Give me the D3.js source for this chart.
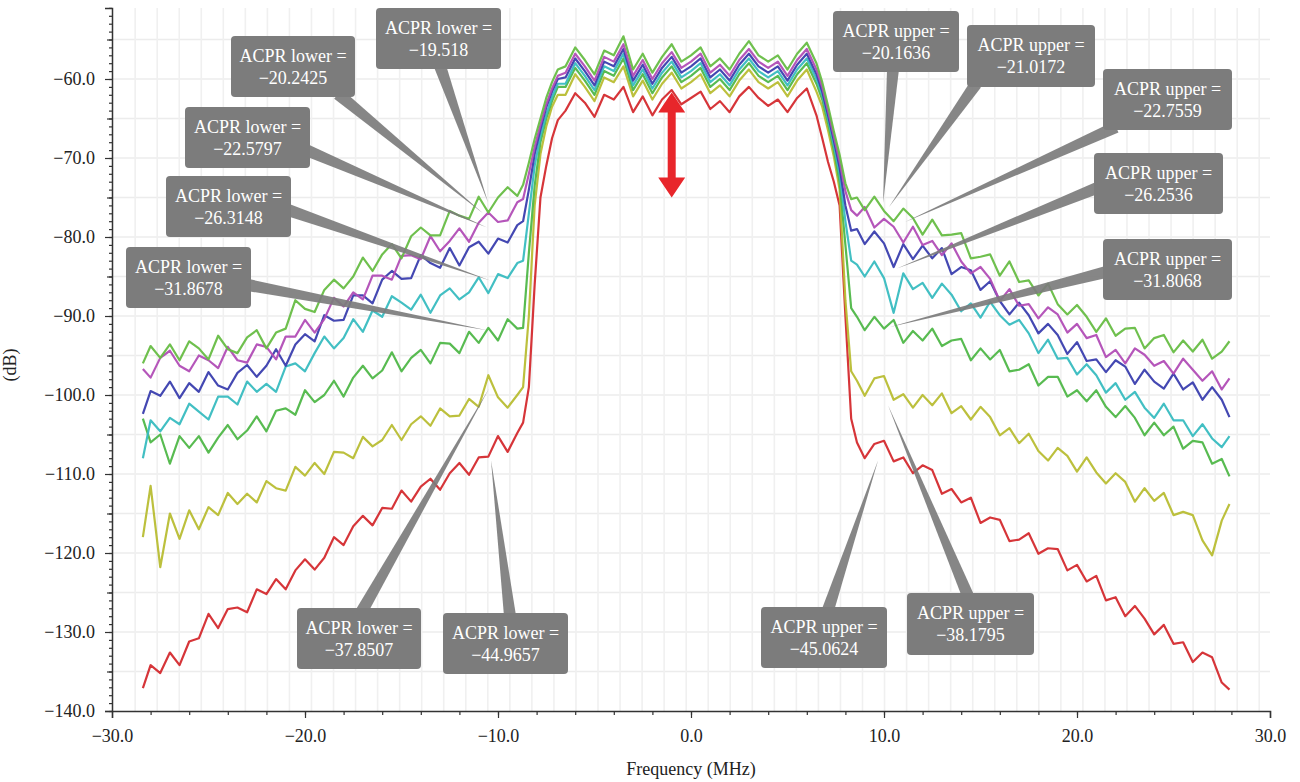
<!DOCTYPE html>
<html><head><meta charset="utf-8">
<script src="https://cdn.jsdelivr.net/npm/d3@7/dist/d3.min.js"></script>
<style>
body{margin:0;background:#fff;}
svg{display:block;}
</style></head><body>
<svg id="chart" width="1300" height="782"></svg>
<script>
// ---------------- DATA ----------------
const freq = [-28.4,-28.0,-27.5,-27.0,-26.5,-26.0,-25.5,-25.0,-24.5,-24.0,-23.5,-23.0,-22.5,-22.0,-21.5,-21.0,-20.5,-20.0,-19.5,-19.0,-18.5,-18.0,-17.5,-17.0,-16.5,-16.0,-15.5,-15.0,-14.5,-14.0,-13.5,-13.0,-12.5,-12.0,-11.5,-11.0,-10.5,-10.0,-9.5,-9.0,
-8.7,-8.4,-8.1,-7.8,-7.5,-7.2,-6.9,
-6.5,-6.0,-5.5,-5.0,-4.5,-4.0,-3.5,-3.0,-2.5,-2.0,-1.5,-1.0,-0.5,0.0,0.5,1.0,1.5,2.0,2.5,3.0,3.5,4.0,4.5,5.0,5.5,6.0,6.5,
6.8,7.1,7.4,7.7,8.0,8.3,
8.6,9.0,9.5,10.0,10.5,11.0,11.5,12.0,12.5,13.0,13.5,14.0,14.5,15.0,15.5,16.0,16.5,17.0,17.5,18.0,18.5,19.0,19.5,20.0,20.5,21.0,21.5,22.0,22.5,23.0,23.5,24.0,24.5,25.0,25.5,26.0,26.5,27.0,27.5,27.9];

const seriesRed = [-137.1,-134.2,-135.2,-132.6,-134.2,-131.2,-130.8,-127.7,-129.5,-127.1,-126.9,-127.5,-124.6,-125.2,-123.3,-124.6,-122.2,-120.8,-122.1,-120.6,-118.0,-119.0,-116.6,-115.3,-116.5,-114.3,-114.4,-112.1,-113.5,-111.6,-110.6,-112.0,-109.9,-108.6,-110.1,-107.9,-107.8,-105.2,-107.2,-104.8,
-103.5,-99.0,-86.0,-75.0,-71.0,-67.5,-65.2,
-64.0,-61.8,-63.0,-64.8,-62.0,-62.6,-61.0,-64.2,-62.2,-64.6,-62.6,-61.4,-63.2,-62.4,-61.6,-63.8,-62.8,-64.2,-62.2,-61.0,-62.4,-63.4,-62.6,-64.2,-62.4,-61.2,-64.6,
-67.5,-70.5,-73.0,-76.0,-90.0,-103.0,
-106.0,-108.0,-106.2,-105.8,-108.4,-107.9,-109.9,-108.9,-109.5,-112.5,-111.9,-113.6,-113.0,-116.2,-115.5,-115.8,-118.5,-118.3,-117.5,-120.1,-119.4,-119.5,-122.2,-121.5,-123.6,-122.9,-126.0,-125.6,-128.0,-126.7,-128.3,-130.3,-129.1,-131.5,-131.3,-133.8,-132.6,-133.2,-136.4,-137.3];

const seriesYellow = [-118.0,-111.5,-121.8,-115.0,-118.2,-114.6,-117.0,-114.2,-115.2,-112.4,-113.8,-112.5,-113.6,-110.9,-111.8,-112.1,-109.1,-110.2,-108.6,-110.0,-107.2,-107.3,-108.0,-105.3,-106.5,-105.7,-103.8,-105.7,-103.7,-102.7,-103.9,-101.7,-102.7,-102.6,-100.5,-101.5,-97.5,-100.3,-101.6,-100.0,
-99.0,-90.0,-76.0,-69.5,-66.0,-63.5,-62.0,
-62.0,-59.4,-61.0,-62.8,-59.8,-60.4,-58.4,-62.2,-60.2,-62.6,-60.6,-59.2,-61.2,-60.4,-59.4,-61.8,-60.8,-62.2,-60.2,-58.8,-60.4,-61.2,-60.4,-62.2,-60.2,-58.8,-61.6,
-63.5,-66.5,-69.8,-74.0,-88.0,-97.0,
-98.2,-100.1,-97.9,-97.6,-100.6,-99.9,-101.6,-100.0,-101.3,-99.8,-102.3,-101.4,-103.1,-101.5,-102.8,-105.1,-104.2,-106.1,-104.9,-107.1,-108.3,-106.7,-107.7,-109.7,-107.9,-109.8,-111.2,-109.9,-111.0,-113.5,-111.8,-113.4,-112.4,-115.2,-114.8,-115.2,-118.4,-120.3,-115.9,-113.8];

const seriesGreenLow = [-103.0,-106.0,-105.0,-108.7,-105.2,-106.7,-105.2,-107.3,-105.4,-103.8,-105.6,-104.5,-102.7,-104.6,-102.0,-101.7,-102.5,-99.4,-100.9,-100.0,-98.2,-100.2,-97.8,-96.3,-97.9,-96.9,-94.6,-97.0,-95.3,-94.3,-96.0,-93.4,-93.5,-94.7,-92.0,-93.4,-91.5,-93.1,-90.4,-91.6,
-91.5,-82.0,-73.5,-68.0,-65.0,-62.8,-61.0,
-61.0,-58.6,-60.2,-62.0,-59.0,-59.6,-57.4,-61.4,-59.4,-61.8,-59.8,-58.4,-60.4,-59.6,-58.6,-61.0,-60.0,-61.4,-59.4,-58.0,-59.6,-60.4,-59.6,-61.4,-59.4,-58.0,-60.6,
-62.6,-65.6,-69.0,-73.0,-81.0,-89.0,
-90.1,-91.8,-90.1,-91.6,-90.5,-93.4,-91.9,-93.1,-91.6,-93.8,-93.1,-92.9,-95.6,-94.1,-95.5,-94.3,-97.0,-96.8,-96.1,-98.8,-97.7,-97.7,-100.2,-99.4,-100.8,-99.4,-101.5,-102.8,-101.4,-102.9,-105.1,-103.5,-105.1,-104.0,-106.8,-105.8,-106.0,-108.7,-108.1,-110.3];

const seriesCyan = [-108.0,-103.2,-104.6,-102.9,-103.7,-101.1,-102.1,-103.1,-100.2,-100.2,-101.2,-98.3,-99.6,-98.6,-99.6,-96.4,-96.0,-97.0,-94.7,-92.6,-94.1,-92.8,-90.4,-92.0,-89.3,-90.1,-87.5,-88.3,-89.2,-87.3,-89.6,-87.4,-86.5,-87.9,-87.0,-85.1,-87.1,-84.7,-85.2,-83.3,
-83.0,-77.0,-71.0,-67.2,-64.5,-62.3,-60.6,
-60.6,-58.0,-59.6,-61.4,-58.4,-59.0,-56.8,-60.8,-58.8,-61.2,-59.2,-57.8,-59.8,-59.0,-58.0,-60.4,-59.4,-60.8,-58.8,-57.4,-59.0,-59.8,-59.0,-60.8,-58.8,-57.4,-60.0,
-62.0,-65.0,-68.4,-72.0,-78.0,-83.0,
-83.5,-85.0,-83.1,-85.2,-89.6,-84.6,-86.6,-85.8,-87.7,-85.9,-87.3,-89.4,-88.4,-90.2,-88.2,-89.9,-91.1,-90.5,-92.2,-94.7,-93.0,-95.4,-95.3,-97.4,-96.1,-97.5,-99.7,-98.5,-100.6,-99.6,-101.6,-102.9,-101.1,-103.2,-103.2,-105.2,-103.7,-105.5,-106.6,-105.2];

const seriesBlue = [-102.4,-99.5,-100.1,-98.3,-100.4,-98.5,-99.6,-97.1,-98.8,-99.3,-97.2,-96.2,-97.7,-96.3,-94.2,-96.3,-93.6,-92.3,-93.2,-89.9,-90.6,-90.5,-87.4,-87.4,-88.4,-85.4,-84.3,-85.3,-85.2,-82.3,-83.3,-83.9,-81.4,-83.6,-81.3,-80.6,-82.1,-80.2,-80.7,-78.5,
-78.0,-74.0,-69.5,-66.4,-63.6,-61.6,-60.0,
-59.8,-57.4,-59.0,-60.8,-57.8,-58.4,-56.2,-60.2,-58.2,-60.6,-58.6,-57.2,-59.2,-58.4,-57.4,-59.8,-58.8,-60.2,-58.2,-56.8,-58.4,-59.2,-58.4,-60.2,-58.2,-56.8,-59.4,
-61.6,-64.6,-67.8,-71.2,-76.0,-79.2,
-79.0,-80.9,-79.3,-80.8,-83.8,-80.9,-82.8,-81.1,-82.7,-81.4,-84.7,-83.8,-84.2,-86.7,-85.6,-88.1,-89.8,-88.3,-89.9,-92.2,-91.0,-92.4,-94.8,-93.3,-95.7,-95.5,-97.1,-95.6,-96.4,-98.6,-96.8,-98.3,-99.2,-97.3,-99.3,-98.4,-100.6,-99.0,-100.6,-102.8];

const seriesMagenta = [-96.7,-97.8,-95.3,-94.4,-96.3,-97.0,-95.0,-95.6,-96.6,-93.9,-95.6,-95.9,-93.6,-93.9,-95.5,-92.6,-92.6,-90.5,-92.1,-90.4,-87.7,-88.8,-87.0,-87.9,-84.9,-84.9,-85.4,-82.4,-82.3,-82.8,-79.9,-81.8,-80.5,-78.9,-80.6,-78.2,-76.9,-78.1,-77.9,-75.6,
-75.2,-72.0,-68.6,-65.8,-63.2,-61.2,-59.6,
-59.2,-56.8,-58.4,-60.2,-57.2,-57.8,-55.6,-59.6,-57.6,-60.0,-58.0,-56.6,-58.6,-57.8,-56.8,-59.2,-58.2,-59.6,-57.6,-56.2,-57.8,-58.6,-57.8,-59.6,-57.6,-56.2,-58.8,
-61.0,-64.0,-67.2,-70.4,-74.2,-76.6,
-77.3,-76.2,-78.8,-77.7,-78.7,-80.7,-78.7,-81.0,-80.5,-82.3,-80.8,-83.1,-84.6,-83.8,-85.3,-88.1,-86.6,-88.7,-88.5,-90.3,-88.9,-89.8,-92.1,-91.0,-92.8,-92.4,-95.2,-94.3,-96.0,-94.1,-94.9,-96.3,-95.7,-97.3,-95.4,-96.8,-98.2,-97.0,-99.3,-97.9];

const seriesGreenTop = [-96.0,-93.8,-95.3,-93.6,-95.6,-93.2,-94.1,-95.5,-92.5,-94.2,-94.7,-92.7,-91.8,-94.1,-92.1,-91.6,-88.0,-89.1,-89.5,-86.7,-85.4,-86.5,-85.0,-82.6,-84.3,-82.2,-80.9,-82.7,-79.9,-78.8,-79.8,-79.8,-76.7,-77.3,-77.7,-74.9,-76.9,-75.0,-73.7,-74.8,
-73.4,-70.6,-67.6,-65.0,-62.4,-60.4,-58.8,
-58.4,-56.0,-57.6,-59.4,-56.4,-57.0,-54.6,-58.8,-56.8,-59.2,-57.2,-55.6,-57.8,-57.0,-56.0,-58.4,-57.4,-58.8,-56.8,-55.2,-57.0,-57.8,-57.0,-58.8,-56.8,-55.4,-58.0,
-60.4,-63.4,-66.6,-69.6,-73.2,-75.2,
-75.0,-76.6,-74.9,-76.7,-78.0,-76.4,-77.6,-79.7,-77.8,-79.8,-79.7,-79.5,-82.7,-82.5,-82.2,-84.9,-83.1,-85.7,-85.5,-87.4,-85.9,-88.5,-89.8,-88.6,-90.1,-92.0,-90.3,-92.5,-91.6,-91.5,-94.1,-92.8,-92.4,-94.6,-93.1,-94.5,-93.0,-95.4,-94.5,-93.2];

const seriesNames  = ["red","yellow","greenLow","cyan","blue","magenta","greenTop"];
const seriesValues = [seriesRed, seriesYellow, seriesGreenLow, seriesCyan, seriesBlue, seriesMagenta, seriesGreenTop];
const seriesColors = ["#d42a2e","#b8bd33","#4fb748","#38bcc0","#3a3eae","#b14db6","#67bd45"];

// callouts: text + the point (MHz, dB) each pointer aims at
const calloutSide  = ["lower","lower","lower","lower","lower","lower","lower","upper","upper","upper","upper","upper","upper","upper"];
const calloutValue = ["\u221219.518","\u221220.2425","\u221222.5797","\u221226.3148","\u221231.8678","\u221237.8507","\u221244.9657",
                      "\u221220.1636","\u221221.0172","\u221222.7559","\u221226.2536","\u221231.8068","\u221245.0624","\u221238.1795"];
const calloutTipF  = [-10.52,-10.78,-10.57,-10.41,-10.57,-10.47,-10.36, 9.95,10.26,11.09,10.67,10.31, 9.69,10.21];
const calloutTipDb = [-75.6,-77.0,-78.8,-85.5,-91.8,-99.2,-108.3, -75.7,-76.2,-78.1,-84.0,-91.4,-108.3,-101.3];

const xTicks = [-30,-20,-10,0,10,20,30];
const yTicks = [-140,-130,-120,-110,-100,-90,-80,-70,-60];
const arrowF = -1.0, arrowTopDb = -61.7, arrowBottomDb = -75.0;

// ---------------- LAYOUT (pixels) ----------------
const FONT = '"Liberation Serif","Times New Roman","DejaVu Serif",serif';
const boxLayout = [
  {x:376,y:8,w:125,h:61,  bx:440,by:66},
  {x:231,y:36,w:124,h:61, bx:338,by:94},
  {x:185,y:107,w:125,h:61,bx:306,by:150},
  {x:166,y:176,w:125,h:61,bx:288,by:210},
  {x:126,y:247,w:125,h:61,bx:248,by:285},
  {x:297,y:608,w:124,h:61,bx:362,by:611},
  {x:443,y:613,w:125,h:61,bx:510,by:616},
  {x:833,y:11,w:126,h:61, bx:893,by:69},
  {x:967,y:25,w:128,h:62, bx:976,by:84},
  {x:1103,y:69,w:129,h:61,bx:1116,by:127},
  {x:1094,y:153,w:129,h:61,bx:1097,by:188},
  {x:1103,y:239,w:129,h:61,bx:1106,by:272},
  {x:761,y:607,w:126,h:61,bx:828,by:610},
  {x:907,y:593,w:127,h:62,bx:968,by:596}
];

seriesValues.forEach((s,i)=>{ if(s.length!==freq.length) throw new Error(seriesNames[i]+" length "+s.length+" vs "+freq.length); });

const svg = d3.select("#chart");
const x = d3.scaleLinear().domain([-30,30]).range([112,1270]);
const y = d3.scaleLinear().domain([-140,-51]).range([711,7.9]);

// grid
const grid = svg.append("g");
grid.selectAll("line.h").data(d3.range(-135,-50,5)).enter().append("line")
  .attr("x1",x(-30)).attr("x2",x(30)).attr("y1",d=>y(d)).attr("y2",d=>y(d))
  .attr("stroke","#ececec").attr("stroke-width",1.6);
grid.selectAll("line.v").data(d3.range(-28.8,30,1.142)).enter().append("line")
  .attr("y1",y(-140)).attr("y2",y(-51)).attr("x1",d=>x(d)).attr("x2",d=>x(d))
  .attr("stroke","#f0f0f0").attr("stroke-width",1.6);

// curves
const line = d3.line().x((d,i)=>x(freq[i])).y(d=>y(d)).curve(d3.curveLinear);
svg.append("g").selectAll("path").data(seriesValues).enter().append("path")
  .attr("d",line).attr("fill","none")
  .attr("stroke",(d,i)=>seriesColors[i]).attr("stroke-width",2.2)
  .attr("stroke-linejoin","round").attr("opacity",0.95);

// red double arrow
const ax = x(arrowF), at = y(arrowTopDb), ab = y(arrowBottomDb);
const hh = 20, hw = 13.5, sw = 4;
svg.append("path").attr("fill","#e8262b").attr("d",
  `M${ax},${at} L${ax+hw},${at+hh} L${ax+sw},${at+hh} L${ax+sw},${ab-hh} L${ax+hw},${ab-hh} L${ax},${ab} L${ax-hw},${ab-hh} L${ax-sw},${ab-hh} L${ax-sw},${at+hh} L${ax-hw},${at+hh} Z`);

// callout pointers
const cg = svg.append("g");
boxLayout.forEach((b,i)=>{
  const tx = x(calloutTipF[i]), ty = y(calloutTipDb[i]);
  const dx = tx-b.bx, dy = ty-b.by, L = Math.hypot(dx,dy);
  const px = -dy/L*6, py = dx/L*6;
  cg.append("path").attr("d",`M${b.bx+px},${b.by+py} L${tx},${ty} L${b.bx-px},${b.by-py} Z`)
    .attr("fill","#7c7c7c").attr("opacity",0.92);
});
boxLayout.forEach((b,i)=>{
  cg.append("rect").attr("x",b.x).attr("y",b.y).attr("width",b.w).attr("height",b.h)
    .attr("rx",4).attr("fill","#7c7c7c");
  const t = cg.append("text").attr("text-anchor","middle").attr("fill","#fff")
    .style("font-family",FONT).style("font-size","18px");
  t.append("tspan").attr("x",b.x+b.w/2).attr("y",b.y+26).text("ACPR "+calloutSide[i]+" =");
  t.append("tspan").attr("x",b.x+b.w/2).attr("y",b.y+48).text(calloutValue[i]);
});

// axes
const fmt = d3.format(".1f");
svg.append("g").attr("transform",`translate(${x(-30)},0)`)
  .call(d3.axisLeft(y).tickValues(yTicks).tickSize(7).tickPadding(10).tickFormat(fmt));
svg.append("g").attr("transform",`translate(${x(-30)},0)`)
  .call(d3.axisLeft(y).tickValues(d3.range(-140,-50,1)).tickSize(3).tickFormat(""))
  .select(".domain").remove();
svg.append("g").attr("transform",`translate(${x(-30)},0)`)
  .call(d3.axisLeft(y).tickValues(d3.range(-135,-50,10)).tickSize(5).tickFormat(""))
  .select(".domain").remove();
svg.append("g").attr("transform",`translate(0,${y(-140)})`)
  .call(d3.axisBottom(x).tickValues(xTicks).tickSize(7).tickPadding(11).tickFormat(fmt));
svg.append("g").attr("transform",`translate(0,${y(-140)})`)
  .call(d3.axisBottom(x).tickValues(d3.range(-28,30,2)).tickSize(4).tickFormat(""))
  .select(".domain").remove();
svg.selectAll(".domain").attr("stroke","#333").attr("stroke-width",1.5);
svg.selectAll(".tick line").attr("stroke","#333").attr("stroke-width",1.2);
svg.selectAll(".tick text").style("font-size","18px").attr("fill","#222").style("font-family",FONT);

svg.append("text").attr("x",691).attr("y",775).attr("text-anchor","middle")
  .style("font-size","18px").style("font-family",FONT).attr("fill","#222").text("Frequency (MHz)");
svg.append("text").attr("transform","translate(16,365) rotate(-90)").attr("text-anchor","middle")
  .style("font-size","18px").style("font-family",FONT).attr("fill","#222").text("(dB)");
</script></body></html>
